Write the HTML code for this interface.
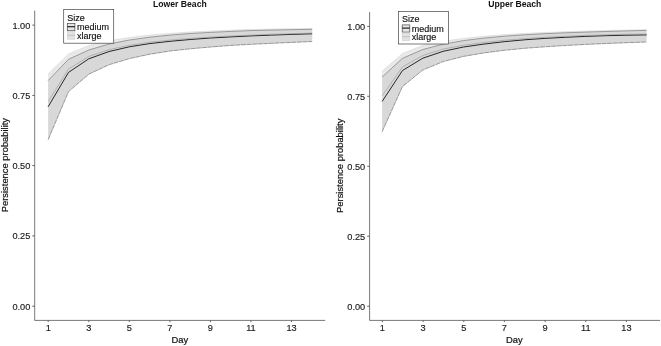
<!DOCTYPE html>
<html><head><meta charset="utf-8"><title>Persistence probability</title>
<style>
html,body{margin:0;padding:0;background:#fff;}
svg{display:block;}
text{font-family:"Liberation Sans",Arial,sans-serif;}
.t{font-size:9.2px;fill:#1a1a1a;stroke:#1a1a1a;stroke-width:0.15px;}
.a{font-size:9.4px;fill:#111;stroke:#111;stroke-width:0.2px;}
.l{font-size:9px;fill:#111;stroke:#111;stroke-width:0.15px;}
.ti{font-size:8.65px;font-weight:bold;fill:#111;}
</style></head><body>
<svg width="661" height="346" viewBox="0 0 661 346">
<rect width="661" height="346" fill="#fff"/>
<g>
<polygon points="48.1,74.1 68.5,54.0 88.8,45.5 109.1,40.7 129.4,37.6 149.7,35.1 170.0,33.4 190.3,32.0 210.6,31.1 230.9,30.2 251.2,29.5 271.6,29.1 291.9,28.8 312.2,28.5 312.2,41.5 291.9,42.4 271.6,43.3 251.2,44.3 230.9,45.4 210.6,47.0 190.3,48.8 170.0,51.0 149.7,54.2 129.4,58.6 109.1,64.7 88.8,74.2 68.5,91.6 48.1,139.8" fill="#8a8a8a" fill-opacity="0.19"/>
<polygon points="48.1,80.6 68.5,59.3 88.8,50.0 109.1,44.0 129.4,40.0 149.7,37.2 170.0,35.1 190.3,33.5 210.6,32.4 230.9,31.4 251.2,30.6 271.6,30.1 291.9,29.7 312.2,29.3 312.2,41.5 291.9,42.4 271.6,43.3 251.2,44.3 230.9,45.4 210.6,47.0 190.3,48.8 170.0,51.0 149.7,54.2 129.4,58.6 109.1,64.7 88.8,74.2 68.5,91.6 48.1,139.8" fill="#8a8a8a" fill-opacity="0.17"/>
<path d="M48.1 74.1 L68.5 54.0 L88.8 45.5 L109.1 40.7 L129.4 37.6 L149.7 35.1 L170.0 33.4 L190.3 32.0 L210.6 31.1 L230.9 30.2 L251.2 29.5 L271.6 29.1 L291.9 28.8 L312.2 28.5" fill="none" stroke="#cccccc" stroke-width="0.5"/>
<path d="M48.1 80.6 L68.5 59.3 L88.8 50.0 L109.1 44.0 L129.4 40.0 L149.7 37.2 L170.0 35.1 L190.3 33.5 L210.6 32.4 L230.9 31.4 L251.2 30.6 L271.6 30.1 L291.9 29.7 L312.2 29.3" fill="none" stroke="#606060" stroke-width="0.55"/>
<path d="M48.1 139.8 L68.5 91.6 L88.8 74.2 L109.1 64.7 L129.4 58.6 L149.7 54.2 L170.0 51.0 L190.3 48.8 L210.6 47.0 L230.9 45.4 L251.2 44.3 L271.6 43.3 L291.9 42.4 L312.2 41.5" fill="none" stroke="#606060" stroke-width="0.6" stroke-dasharray="5 0.6"/>
<path d="M48.1 106.8 L68.5 72.4 L88.8 58.8 L109.1 51.5 L129.4 46.8 L149.7 43.6 L170.0 41.3 L190.3 39.5 L210.6 38.0 L230.9 36.9 L251.2 35.9 L271.6 35.1 L291.9 34.4 L312.2 33.8" fill="none" stroke="#111" stroke-width="0.9"/>
<path d="M48.1 101.6 L68.5 69.1 L88.8 56.4 L109.1 49.6 L129.4 45.3 L149.7 42.3 L170.0 40.1 L190.3 38.4 L210.6 37.1 L230.9 36.0 L251.2 35.1 L271.6 34.3 L291.9 33.7 L312.2 33.1" fill="none" stroke="#959595" stroke-width="0.6"/>
<path d="M34.7 10.6 V320.4 H325.2" fill="none" stroke="#555" stroke-width="0.8"/>
<path d="M34.7 306.2 h-2.4" stroke="#555" stroke-width="0.9"/>
<text x="30.3" y="309.6" text-anchor="end" class="t">0.00</text>
<path d="M34.7 235.9 h-2.4" stroke="#555" stroke-width="0.9"/>
<text x="30.3" y="239.3" text-anchor="end" class="t">0.25</text>
<path d="M34.7 165.6 h-2.4" stroke="#555" stroke-width="0.9"/>
<text x="30.3" y="169.0" text-anchor="end" class="t">0.50</text>
<path d="M34.7 95.4 h-2.4" stroke="#555" stroke-width="0.9"/>
<text x="30.3" y="98.8" text-anchor="end" class="t">0.75</text>
<path d="M34.7 25.1 h-2.4" stroke="#555" stroke-width="0.9"/>
<text x="30.3" y="28.5" text-anchor="end" class="t">1.00</text>
<path d="M48.2 320.4 v1.7" stroke="#555" stroke-width="0.9"/>
<text x="48.2" y="331.3" text-anchor="middle" class="t">1</text>
<path d="M88.8 320.4 v1.7" stroke="#555" stroke-width="0.9"/>
<text x="88.8" y="331.3" text-anchor="middle" class="t">3</text>
<path d="M129.3 320.4 v1.7" stroke="#555" stroke-width="0.9"/>
<text x="129.3" y="331.3" text-anchor="middle" class="t">5</text>
<path d="M169.9 320.4 v1.7" stroke="#555" stroke-width="0.9"/>
<text x="169.9" y="331.3" text-anchor="middle" class="t">7</text>
<path d="M210.4 320.4 v1.7" stroke="#555" stroke-width="0.9"/>
<text x="210.4" y="331.3" text-anchor="middle" class="t">9</text>
<path d="M250.9 320.4 v1.7" stroke="#555" stroke-width="0.9"/>
<text x="250.9" y="331.3" text-anchor="middle" class="t">11</text>
<path d="M291.5 320.4 v1.7" stroke="#555" stroke-width="0.9"/>
<text x="291.5" y="331.3" text-anchor="middle" class="t">13</text>
<text x="179.9" y="343.2" text-anchor="middle" class="a">Day</text>
<text transform="translate(8.3,165.1) rotate(-90)" text-anchor="middle" class="a">Persistence probability</text>
<text x="179.9" y="7.4" text-anchor="middle" class="ti">Lower Beach</text>
<rect x="63.7" y="9.6" width="50.0" height="33.6" fill="#fff" stroke="#444" stroke-width="0.7"/>
<text x="67.2" y="20.6" class="l">Size</text>
<rect x="67.3" y="23.5" width="7.6" height="7.2" fill="#e6e6e6" stroke="#4a4a4a" stroke-width="0.7"/>
<path d="M67.3 26.7 h7.6" stroke="#111" stroke-width="1.1"/>
<rect x="67.3" y="31.6" width="7.6" height="7.6" fill="#e2e2e2" stroke="#d0d0d0" stroke-width="0.6"/>
<path d="M67.3 35.3 h7.6" stroke="#bdbdbd" stroke-width="0.9"/>
<text x="76.9" y="30.4" class="l">medium</text>
<text x="76.9" y="38.5" class="l">xlarge</text>
</g>
<g>
<polygon points="382.1,71.3 402.5,53.5 422.8,45.5 443.2,41.2 463.5,38.4 483.9,36.2 504.2,34.7 524.6,33.4 544.9,32.5 565.3,31.7 585.6,31.1 605.9,30.6 626.3,30.1 646.6,29.7 646.6,42.0 626.3,42.7 605.9,43.5 585.6,44.4 565.3,45.5 544.9,46.8 524.6,48.3 504.2,50.3 483.9,52.9 463.5,56.4 443.2,61.6 422.8,70.0 402.5,86.5 382.1,131.8" fill="#8a8a8a" fill-opacity="0.19"/>
<polygon points="382.1,77.0 402.5,58.3 422.8,49.5 443.2,44.2 463.5,40.6 483.9,38.1 504.2,36.2 524.6,34.8 544.9,33.7 565.3,32.8 585.6,32.1 605.9,31.5 626.3,30.9 646.6,30.4 646.6,42.0 626.3,42.7 605.9,43.5 585.6,44.4 565.3,45.5 544.9,46.8 524.6,48.3 504.2,50.3 483.9,52.9 463.5,56.4 443.2,61.6 422.8,70.0 402.5,86.5 382.1,131.8" fill="#8a8a8a" fill-opacity="0.17"/>
<path d="M382.1 71.3 L402.5 53.5 L422.8 45.5 L443.2 41.2 L463.5 38.4 L483.9 36.2 L504.2 34.7 L524.6 33.4 L544.9 32.5 L565.3 31.7 L585.6 31.1 L605.9 30.6 L626.3 30.1 L646.6 29.7" fill="none" stroke="#cccccc" stroke-width="0.5"/>
<path d="M382.1 77.0 L402.5 58.3 L422.8 49.5 L443.2 44.2 L463.5 40.6 L483.9 38.1 L504.2 36.2 L524.6 34.8 L544.9 33.7 L565.3 32.8 L585.6 32.1 L605.9 31.5 L626.3 30.9 L646.6 30.4" fill="none" stroke="#606060" stroke-width="0.55"/>
<path d="M382.1 131.8 L402.5 86.5 L422.8 70.0 L443.2 61.6 L463.5 56.4 L483.9 52.9 L504.2 50.3 L524.6 48.3 L544.9 46.8 L565.3 45.5 L585.6 44.4 L605.9 43.5 L626.3 42.7 L646.6 42.0" fill="none" stroke="#606060" stroke-width="0.6" stroke-dasharray="5 0.6"/>
<path d="M382.1 101.5 L402.5 70.5 L422.8 58.2 L443.2 51.3 L463.5 47.0 L483.9 44.1 L504.2 41.7 L524.6 39.8 L544.9 38.4 L565.3 37.3 L585.6 36.4 L605.9 35.7 L626.3 35.2 L646.6 34.9" fill="none" stroke="#111" stroke-width="0.9"/>
<path d="M382.1 95.9 L402.5 66.9 L422.8 55.5 L443.2 49.1 L463.5 45.2 L483.9 42.5 L504.2 40.3 L524.6 38.6 L544.9 37.3 L565.3 36.3 L585.6 35.4 L605.9 34.8 L626.3 34.3 L646.6 34.1" fill="none" stroke="#959595" stroke-width="0.6"/>
<path d="M369.6 12.1 V320.4 H660.1" fill="none" stroke="#555" stroke-width="0.8"/>
<path d="M369.6 306.2 h-2.4" stroke="#555" stroke-width="0.9"/>
<text x="365.2" y="309.6" text-anchor="end" class="t">0.00</text>
<path d="M369.6 236.2 h-2.4" stroke="#555" stroke-width="0.9"/>
<text x="365.2" y="239.7" text-anchor="end" class="t">0.25</text>
<path d="M369.6 166.3 h-2.4" stroke="#555" stroke-width="0.9"/>
<text x="365.2" y="169.7" text-anchor="end" class="t">0.50</text>
<path d="M369.6 96.3 h-2.4" stroke="#555" stroke-width="0.9"/>
<text x="365.2" y="99.7" text-anchor="end" class="t">0.75</text>
<path d="M369.6 26.4 h-2.4" stroke="#555" stroke-width="0.9"/>
<text x="365.2" y="29.8" text-anchor="end" class="t">1.00</text>
<path d="M382.4 320.4 v1.7" stroke="#555" stroke-width="0.9"/>
<text x="382.4" y="331.3" text-anchor="middle" class="t">1</text>
<path d="M423.1 320.4 v1.7" stroke="#555" stroke-width="0.9"/>
<text x="423.1" y="331.3" text-anchor="middle" class="t">3</text>
<path d="M463.8 320.4 v1.7" stroke="#555" stroke-width="0.9"/>
<text x="463.8" y="331.3" text-anchor="middle" class="t">5</text>
<path d="M504.4 320.4 v1.7" stroke="#555" stroke-width="0.9"/>
<text x="504.4" y="331.3" text-anchor="middle" class="t">7</text>
<path d="M545.1 320.4 v1.7" stroke="#555" stroke-width="0.9"/>
<text x="545.1" y="331.3" text-anchor="middle" class="t">9</text>
<path d="M585.8 320.4 v1.7" stroke="#555" stroke-width="0.9"/>
<text x="585.8" y="331.3" text-anchor="middle" class="t">11</text>
<path d="M626.4 320.4 v1.7" stroke="#555" stroke-width="0.9"/>
<text x="626.4" y="331.3" text-anchor="middle" class="t">13</text>
<text x="514.3" y="343.2" text-anchor="middle" class="a">Day</text>
<text transform="translate(343.2,165.8) rotate(-90)" text-anchor="middle" class="a">Persistence probability</text>
<text x="514.8" y="7.4" text-anchor="middle" class="ti">Upper Beach</text>
<rect x="398.6" y="11.4" width="50.0" height="32.6" fill="#fff" stroke="#444" stroke-width="0.7"/>
<text x="402.1" y="21.6" class="l">Size</text>
<rect x="402.2" y="24.9" width="7.6" height="7.2" fill="#e6e6e6" stroke="#4a4a4a" stroke-width="0.7"/>
<path d="M402.2 28.1 h7.6" stroke="#111" stroke-width="1.1"/>
<rect x="402.2" y="33.0" width="7.6" height="7.6" fill="#e2e2e2" stroke="#d0d0d0" stroke-width="0.6"/>
<path d="M402.2 36.7 h7.6" stroke="#bdbdbd" stroke-width="0.9"/>
<text x="411.8" y="31.8" class="l">medium</text>
<text x="411.8" y="39.9" class="l">xlarge</text>
</g>
</svg>
</body></html>
